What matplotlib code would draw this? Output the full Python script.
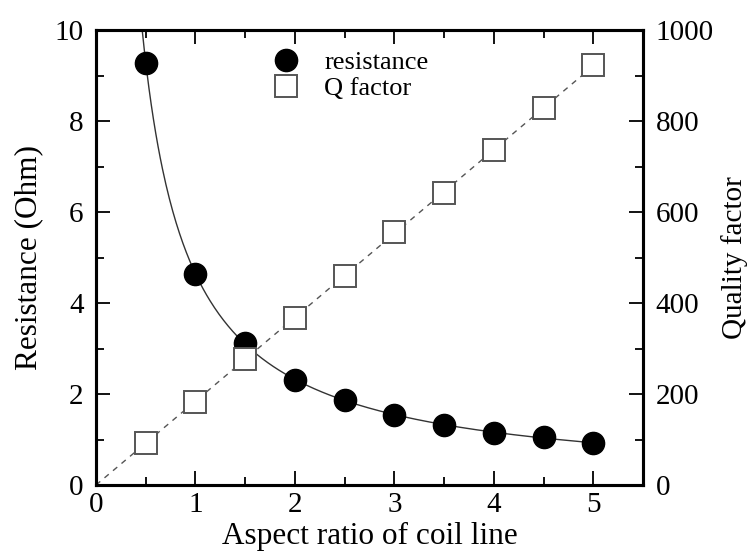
import numpy as np
import matplotlib
matplotlib.use("Agg")
import matplotlib.pyplot as plt
from matplotlib.ticker import MultipleLocator

# Data
aspect = [0.5, 1.0, 1.5, 2.0, 2.5, 3.0, 3.5, 4.0, 4.5, 5.0]
resistance = [9.28, 4.64, 3.13, 2.31, 1.87, 1.54, 1.32, 1.15, 1.05, 0.92]
q_factor = [92, 183, 276, 368, 459, 556, 642, 736, 828, 923]

plt.rcParams['font.family'] = ['Liberation Serif', 'DejaVu Serif']

fig = plt.figure(figsize=(7.51, 5.54), dpi=100)
ax = fig.add_axes([96/751, 69/554, 547/751, 455/554])
ax2 = ax.twinx()

x = np.array(aspect)
r = np.array(resistance)
q = np.array(q_factor)

# fit curves derived from data: R = a/x, Q = b*x
a = np.sum(r / x) / np.sum(1 / x**2)
b = np.sum(q * x) / np.sum(x**2)
xr = np.linspace(a / 10.0, 5.0, 400)
ax.plot(xr, a / xr, color='#333333', lw=1.0, zorder=2)
xq = np.linspace(0, 5.0, 100)
ax2.plot(xq, b * xq, color='#555555', lw=1.0, ls=(0, (4, 4)), zorder=2)

h1, = ax.plot(aspect, resistance, 'o', color='black', ms=16, zorder=3,
              label='resistance')
h2, = ax2.plot(aspect, q_factor, 's', mfc='white', mec='#555555', mew=1.4,
               ms=16, zorder=3, label='Q factor')

ax.set_xlim(0, 5.5)
ax.set_ylim(0, 10)
ax2.set_ylim(0, 1000)

ax.xaxis.set_major_locator(MultipleLocator(1))
ax.xaxis.set_minor_locator(MultipleLocator(0.5))
ax.yaxis.set_major_locator(MultipleLocator(2))
ax.yaxis.set_minor_locator(MultipleLocator(1))
ax2.yaxis.set_major_locator(MultipleLocator(200))
ax2.yaxis.set_minor_locator(MultipleLocator(100))

for a_ in (ax, ax2):
    for s in a_.spines.values():
        s.set_linewidth(2.2)

ax.tick_params(axis='x', which='both', direction='in', top=True, bottom=True,
               labelsize=21, pad=5)
ax.tick_params(axis='y', which='both', direction='in', left=True, right=False,
               labelsize=21, pad=9)
ax.tick_params(which='major', length=10, width=1.3)
ax.tick_params(which='minor', length=6, width=1.3)
ax2.tick_params(axis='y', which='both', direction='in', labelsize=21, pad=9)
ax2.tick_params(which='major', length=10, width=1.3)
ax2.tick_params(which='minor', length=6, width=1.3)

ax.set_xlabel('Aspect ratio of coil line', fontsize=22.5, labelpad=3)
ax.set_ylabel('Resistance (Ohm)', fontsize=22.5, labelpad=8)
ax2.set_ylabel('Quality factor', fontsize=21, labelpad=5)

leg = ax2.legend([h1, h2], ['resistance', 'Q factor'], loc='upper left',
                 bbox_to_anchor=(0.27, 0.99), frameon=False, fontsize=19,
                 handletextpad=0.45, labelspacing=0.12, borderaxespad=0.2,
                 markerscale=1.0)

fig.savefig('out.png', dpi=100)
